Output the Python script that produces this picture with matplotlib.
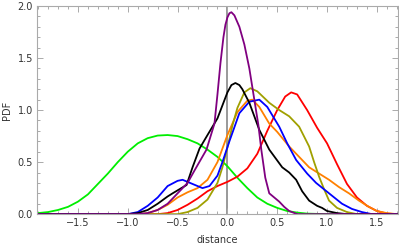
import matplotlib
matplotlib.use("Agg")
import matplotlib.pyplot as plt
from matplotlib.ticker import MultipleLocator, FuncFormatter

# values (x = distance, y = PDF)
green_x = [-1.9, -1.8, -1.7, -1.6, -1.5, -1.4, -1.3, -1.2, -1.1, -1.0, -0.9, -0.8, -0.7, -0.6, -0.5,
           -0.4, -0.3, -0.2, -0.1, 0.0, 0.1, 0.2, 0.3, 0.4, 0.5, 0.6, 0.7, 0.8, 1.0, 1.7]
green_y = [0.01, 0.02, 0.04, 0.07, 0.12, 0.19, 0.29, 0.39, 0.50, 0.60, 0.68, 0.73, 0.755, 0.76, 0.75,
           0.72, 0.68, 0.62, 0.55, 0.46, 0.35, 0.25, 0.16, 0.10, 0.06, 0.03, 0.015, 0.005, 0.0, 0.0]

red_x = [-1.9, -0.7, -0.6, -0.5, -0.4, -0.3, -0.2, -0.1, 0.0, 0.1, 0.2, 0.3, 0.4, 0.5, 0.58, 0.64,
         0.7, 0.8, 0.9, 1.0, 1.1, 1.2, 1.3, 1.4, 1.5, 1.6, 1.7]
red_y = [0.0, 0.0, 0.01, 0.04, 0.09, 0.15, 0.22, 0.27, 0.31, 0.36, 0.44, 0.58, 0.80, 1.00, 1.13, 1.17,
         1.15, 1.00, 0.83, 0.68, 0.48, 0.29, 0.16, 0.08, 0.03, 0.005, 0.0]

orange_x = [-1.9, -0.9, -0.8, -0.7, -0.6, -0.5, -0.4, -0.3, -0.2, -0.1, 0.0, 0.1, 0.2, 0.25, 0.32,
            0.42, 0.5, 0.62, 0.72, 0.82, 0.92, 1.02, 1.12, 1.22, 1.32, 1.42, 1.5, 1.6, 1.7]
orange_y = [0.0, 0.0, 0.01, 0.04, 0.09, 0.16, 0.21, 0.25, 0.33, 0.50, 0.76, 0.98, 1.09, 1.10, 1.03,
            0.87, 0.79, 0.65, 0.55, 0.45, 0.39, 0.33, 0.26, 0.20, 0.13, 0.07, 0.03, 0.01, 0.0]

olive_x = [-1.9, -0.5, -0.4, -0.3, -0.2, -0.1, -0.05, 0.0, 0.05, 0.1, 0.17, 0.23, 0.3, 0.42, 0.52,
           0.62, 0.72, 0.82, 0.87, 0.92, 0.97, 1.02, 1.1, 1.2, 1.3, 1.7]
olive_y = [0.0, 0.0, 0.02, 0.06, 0.14, 0.30, 0.45, 0.64, 0.85, 1.02, 1.17, 1.21, 1.18, 1.07, 1.00,
           0.94, 0.84, 0.65, 0.50, 0.36, 0.24, 0.13, 0.06, 0.02, 0.0, 0.0]

blue_x = [-1.9, -1.0, -0.9, -0.8, -0.7, -0.6, -0.5, -0.45, -0.35, -0.25, -0.18, -0.1, -0.05, 0.02,
          0.12, 0.22, 0.32, 0.4, 0.52, 0.6, 0.69, 0.8, 0.89, 1.02, 1.15, 1.25, 1.35, 1.45, 1.7]
blue_y = [0.0, 0.0, 0.02, 0.08, 0.16, 0.27, 0.32, 0.33, 0.29, 0.25, 0.27, 0.37, 0.50, 0.70,
          0.97, 1.08, 1.10, 1.03, 0.84, 0.68, 0.52, 0.39, 0.30, 0.20, 0.10, 0.05, 0.02, 0.0, 0.0]

black_x = [-1.9, -1.0, -0.9, -0.8, -0.7, -0.6, -0.55, -0.48, -0.41, -0.35, -0.28, -0.2, -0.1, 0.0,
           0.04, 0.08, 0.12, 0.15, 0.22, 0.32, 0.42, 0.55, 0.62, 0.69, 0.75, 0.82, 0.9, 0.95, 1.0,
           1.1, 1.2, 1.7]
black_y = [0.0, 0.0, 0.01, 0.04, 0.10, 0.17, 0.20, 0.24, 0.28, 0.45, 0.63, 0.76, 0.92, 1.17,
           1.24, 1.26, 1.24, 1.20, 1.07, 0.81, 0.62, 0.45, 0.40, 0.33, 0.22, 0.13, 0.08, 0.06, 0.03,
           0.01, 0.0, 0.0]

purple_x = [-1.9, -0.9, -0.8, -0.7, -0.6, -0.5, -0.4, -0.33, -0.21, -0.13, -0.1, -0.07, -0.04, -0.02,
            0.0, 0.02, 0.04, 0.07, 0.12, 0.17, 0.22, 0.27, 0.31, 0.34, 0.38, 0.42, 0.47, 0.52, 0.57,
            0.62, 0.7, 1.7]
purple_y = [0.0, 0.0, 0.01, 0.04, 0.10, 0.20, 0.30, 0.42, 0.62, 0.87, 1.15, 1.45, 1.70, 1.82,
            1.89, 1.93, 1.94, 1.91, 1.80, 1.63, 1.40, 1.10, 0.86, 0.62, 0.35, 0.20, 0.16, 0.12, 0.07,
            0.03, 0.0, 0.0]

series = [
    (green_x, green_y, "#00ee00"),
    (red_x, red_y, "#ff0000"),
    (orange_x, orange_y, "#ff8000"),
    (olive_x, olive_y, "#a0a000"),
    (blue_x, blue_y, "#0000ff"),
    (black_x, black_y, "#000000"),
    (purple_x, purple_y, "#800080"),
]

fig = plt.figure(figsize=(3.99, 2.49), dpi=100)
ax = fig.add_axes([0.093, 0.14, 0.904, 0.836])

ax.axvline(0, color="#999999", lw=1.4, zorder=1)
for xs, ys, c in series:
    ax.plot(xs, ys, color=c, lw=1.3, zorder=2, solid_joinstyle="round")

ax.set_xlim(-1.91, 1.71)
ax.set_ylim(0, 2.0)

ax.xaxis.set_major_locator(MultipleLocator(0.5))
ax.xaxis.set_minor_locator(MultipleLocator(0.1))
ax.yaxis.set_major_locator(MultipleLocator(0.5))
ax.yaxis.set_minor_locator(MultipleLocator(0.1))
fmt = FuncFormatter(lambda v, p: ("%.1f" % v).replace("-", "\u2212"))
ax.xaxis.set_major_formatter(fmt)
ax.yaxis.set_major_formatter(fmt)

for s in ax.spines.values():
    s.set_color("#aaaaaa")
    s.set_linewidth(0.8)
ax.tick_params(which="both", direction="in", top=True, right=True, color="#aaaaaa",
               labelsize=7, labelcolor="#333333", width=0.7)
ax.tick_params(which="major", length=4, pad=3)
ax.tick_params(which="minor", length=2)

ax.set_xlabel("distance", fontsize=7, color="#333333", labelpad=5)
ax.set_ylabel("PDF", fontsize=7, color="#333333", labelpad=4)

fig.savefig("out.png", dpi=100)
